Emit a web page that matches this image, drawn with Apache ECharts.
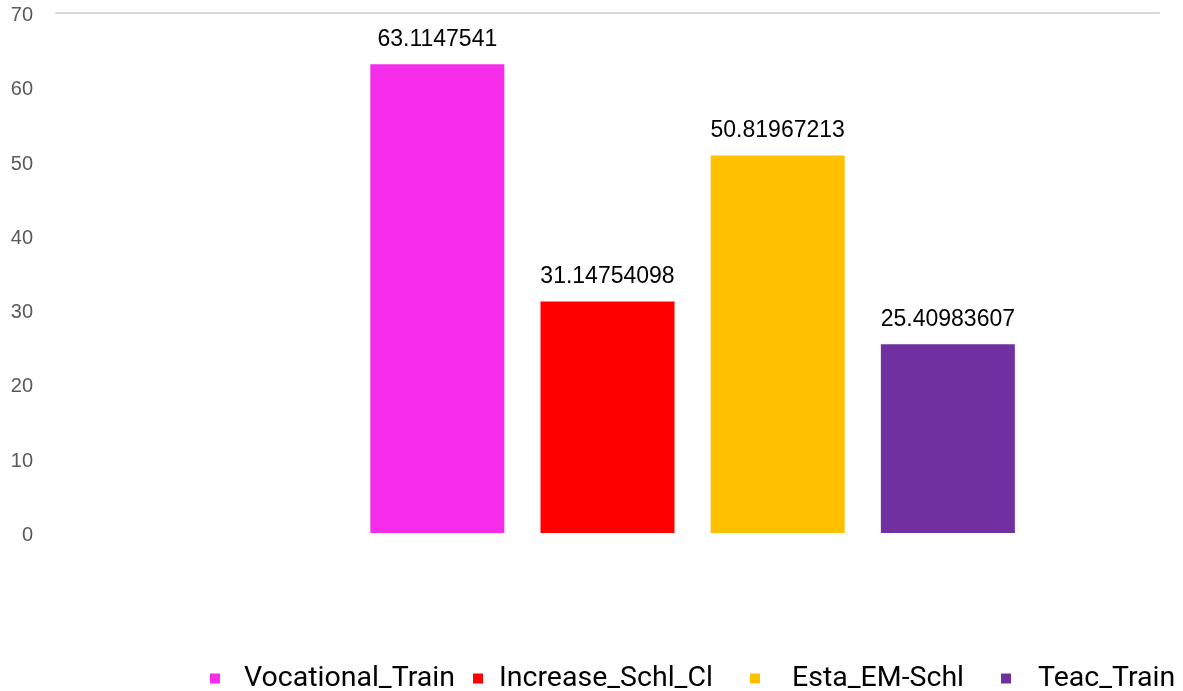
<!DOCTYPE html>
<html>
<head>
<meta charset="utf-8">
<script src="https://cdn.jsdelivr.net/npm/echarts@6/dist/echarts.min.js"></script>
<style>
html,body{margin:0;padding:0;background:#fff;}
#chart{width:1183px;height:691px;}
</style>
</head>
<body>
<div id="chart"></div>
<script>
// ---- data ----
const categories = [''];
const seriesNames = ['Vocational_Train', 'Increase_Schl_Cl', 'Esta_EM-Schl', 'Teac_Train'];
const seriesValues = [63.1147541, 31.14754098, 50.81967213, 25.40983607];
const seriesColors = ['#F52CE9', '#FF0000', '#FFC000', '#7030A0'];
const yTicks = [0, 10, 20, 30, 40, 50, 60, 70];

// ---- chart ----
const chart = echarts.init(document.getElementById('chart'), null, {renderer: 'canvas'});

const series = [{
  name: '_blank',
  type: 'bar',
  barWidth: 134,
  barGap: '27%',
  data: [null]
}];
seriesNames.forEach((n, i) => {
  series.push({
    name: n,
    type: 'bar',
    barWidth: 134,
    barGap: '27%',
    itemStyle: {color: seriesColors[i]},
    label: {
      show: true,
      position: 'top',
      distance: 13,
      color: '#000',
      fontSize: 23,
      fontFamily: 'Liberation Sans, Arial, sans-serif',
      formatter: (p) => String(p.value)
    },
    data: [seriesValues[i]]
  });
});

const legendLefts = [205, 468, 745, 996];
const legendPads = [19, 11, 27, 22];
const legends = seriesNames.map((n, i) => ({
  data: [n],
  left: legendLefts[i],
  top: 659,
  icon: 'rect',
  itemWidth: 10,
  itemHeight: 10,
  selectedMode: false,
  textStyle: {
    color: '#000',
    fontSize: 28.5,
    fontFamily: 'Roboto, sans-serif',
    padding: [0, 0, 0, legendPads[i]]
  }
}));

chart.setOption({
  animation: false,
  color: seriesColors,
  grid: {left: 56, right: 24, top: 13, bottom: 158, containLabel: false},
  legend: legends,
  xAxis: [{
    type: 'category',
    data: categories,
    axisLine: {show: false},
    axisTick: {show: false},
    axisLabel: {show: false}
  }, {
    type: 'category',
    data: categories,
    position: 'top',
    axisLine: {show: true, lineStyle: {color: '#D9D9D9', width: 2}},
    axisTick: {show: false},
    axisLabel: {show: false}
  }],
  yAxis: {
    type: 'value',
    min: yTicks[0],
    max: yTicks[yTicks.length - 1],
    interval: 10,
    axisLine: {show: false},
    axisTick: {show: false},
    splitLine: {show: false},
    axisLabel: {
      color: '#595959',
      fontSize: 20,
      fontFamily: 'Liberation Sans, Arial, sans-serif',
      margin: 23,
      verticalAlign: 'top',
      lineHeight: 5
    }
  },
  series: series
});
</script>
</body>
</html>
